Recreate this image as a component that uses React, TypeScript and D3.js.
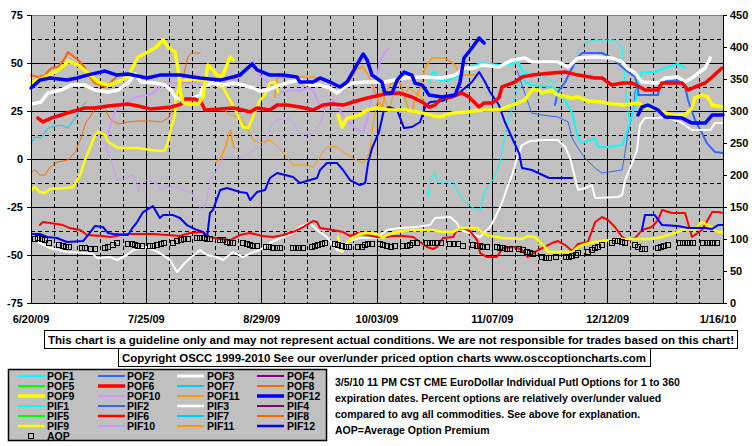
import React from "react";
import * as d3 from "d3";

type P = [number, number] | null;

// x values are days since 6/20/09; POF series on the left axis (%), PIF series + AOP on the right axis
const xTickDays = [0, 35, 70, 105, 140, 175, 210];
const xTickLabels = ["6/20/09", "7/25/09", "8/29/09", "10/03/09", "11/07/09", "12/12/09", "1/16/10"];
const leftTicks = [75, 50, 25, 0, -25, -50, -75];
const rightTicks = [450, 400, 350, 300, 250, 200, 150, 100, 50, 0];

const POF1: P[] = [[121.1,40.1],[121.7,44.8],[122.6,45.3],[123.8,41.1],[126.9,41.1],[128.7,42.2],[130.8,45.3],[132.9,47.9],[136.9,50.0],[142.0,49.0],[148.1,50.0],[149.0,46.4],[149.9,40.1],[152.0,38.5],[158.1,37.5],[161.1,33.3],[164.2,23.9],[166.0,10.9],[167.2,8.3],[171.2,10.9],[172.1,6.3],[175.1,6.3],[179.4,7.3],[180.3,10.9],[183.3,28.1],[184.2,38.5],[185.4,45.3],[189.3,45.3],[192.4,47.4],[196.3,49.5],[198.5,47.4]];
const POF2: P[] = [[159.0,28.1],[159.9,34.9],[162.1,40.1],[163.6,45.3],[165.7,52.6],[167.2,55.2],[173.3,55.2],[176.3,52.6],[179.7,47.4],[181.2,45.3],[183.3,42.7],[184.2,37.5],[184.3,33.3],[190.3,33.3],[190.9,40.1],[197.6,41.1],[198.5,37.5],[199.4,30.7],[201.5,20.3],[203.6,13.5],[205.1,8.3],[207.6,3.6],[210,3.1]];
const POF3: P[] = [[0,28.6],[3.0,29.7],[5.2,34.4],[9.1,35.9],[12.1,38.5],[16.4,38.5],[19.4,35.9],[23.4,34.9],[26.4,35.9],[29.4,39.6],[31.6,44.3],[33.4,40.1],[37.6,39.6],[40.7,38.5],[42.5,35.9],[44.0,31.8],[47.6,30.7],[51.3,33.3],[52.2,37.5],[55.2,39.6],[58.3,38.5],[61.3,39.6],[64.3,38.5],[67.4,37.0],[69.5,35.4],[71.6,35.9],[75.6,38.5],[78.6,40.1],[81.6,41.1],[84.7,38.5],[87.7,38.5],[90.7,37.0],[92.9,34.4],[94.7,37.0],[97.7,39.6],[102.0,40.1],[107.4,40.1],[113.5,42.2],[118.7,42.7],[124.7,42.2],[128.7,43.7],[131.7,47.4],[134.7,47.4],[136.9,49.0],[142.0,47.9],[146.0,51.6],[149.9,52.6],[152.0,50.5],[159.9,50.5],[163.0,47.9],[166.0,52.6],[171.2,53.1],[176.3,52.6],[179.4,50.5],[180.9,47.4],[183.3,44.8],[185.4,40.1],[190.3,39.6],[192.4,42.2],[196.3,42.7],[198.5,40.1],[200.6,42.2],[204.6,47.4],[206.1,52.6]];
const POF4: P[] = [];
const POF5: P[] = [];
const POF6: P[] = [[2.1,21.3],[3.6,19.3],[6.1,21.3],[9.1,22.9],[12.1,24.5],[16.4,26.6],[19.4,26.6],[23.4,27.6],[26.4,28.1],[29.4,28.6],[32.5,27.6],[36.4,26.0],[39.5,26.6],[42.5,27.1],[45.5,28.6],[46.7,31.2],[49.8,31.2],[51.6,29.7],[52.8,25.5],[57.4,26.0],[61.3,26.6],[64.3,25.5],[66.5,24.5],[68.6,26.6],[72.5,25.5],[74.7,28.1],[77.7,28.1],[81.6,27.1],[85.6,25.5],[88.6,28.1],[91.6,28.6],[94.7,28.1],[97.7,29.7],[102.0,31.8],[107.4,33.8],[111.7,34.4],[115.6,32.3],[118.7,29.7],[120.8,27.1],[122.6,28.1],[124.7,31.8],[127.8,32.3],[130.8,34.4],[132.9,32.3],[136.0,27.1],[137.5,29.2],[139.9,29.2],[142.0,31.8],[142.9,37.5],[146.9,40.1],[149.0,42.7],[152.0,43.7],[158.1,44.8],[162.1,45.3],[166.0,43.7],[171.2,42.2],[173.3,42.2],[176.3,38.5],[179.4,39.6],[182.4,39.6],[184.2,38.0],[186.3,35.9],[190.3,35.9],[191.5,39.6],[197.6,39.6],[199.4,35.9],[201.5,37.5],[204.6,39.6],[206.7,42.7],[209.7,47.4]];
const POF7: P[] = [[0,8.3],[1.2,11.5],[3.0,10.9],[5.2,16.1],[6.1,16.7],[9.1,17.7],[11.2,16.1],[13.4,21.3],[15.2,26.6],[16.7,29.7]];
const POF8: P[] = [[0,43.7],[2.1,42.7],[4.2,43.7],[6.1,47.4],[8.2,47.9],[10.3,52.6],[11.2,55.7],[14.3,51.6],[16.4,47.4],[17.3,43.7],[19.4,39.6],[22.5,37.5],[24.3,40.1],[26.4,43.7]];
const POF9: P[] = [[0,39.6],[4.2,42.7],[7.3,45.3],[10.3,49.0],[11.2,51.0],[14.3,49.0],[17.3,44.8],[20.3,40.1],[23.4,38.5],[26.4,40.1],[29.4,42.7],[32.5,53.1],[35.5,55.7],[37.6,57.8],[40.1,62.0],[41.6,58.3],[43.7,55.7],[44.6,47.4],[45.5,33.3],[46.1,29.7],[47.6,28.6],[50.7,28.6],[52.2,32.3],[52.8,39.6],[53.7,49.0],[55.2,46.4],[56.4,43.7],[58.0,42.7],[59.5,49.0],[60.4,53.1],[61.3,51.6],null,[93.2,22.9],[94.4,16.7],[95.9,21.3],[97.7,21.9],[99.8,22.9],[102.0,25.5],[105.0,26.6],[108.9,25.5],[114.1,25.5],[119.0,23.9],[123.8,21.9],[127.8,23.9],[132.3,24.5],[137.2,25.5],[142.0,25.5],[146.0,28.1],[149.9,30.7],[152.0,35.9],[154.2,35.9],[155.1,34.4],[158.1,35.9],[159.9,33.3],[164.2,31.8],[166.0,32.3],[169.0,30.2],[173.3,29.7],[176.3,28.6],[180.3,28.1],[184.2,29.2],[186.3,27.1],[188.4,26.6],[191.5,24.5],[194.5,22.9],[198.5,22.9],[200.6,26.6],[201.5,31.8],[203.6,33.3],[205.4,32.3],[206.7,28.1],[210,27.1]];
const POF10: P[] = [[22.8,5.7],[23.4,12.5],[24.3,19.3],[25.5,24.5],[27.3,28.6],[29.4,29.7],[31.6,32.3],[35.5,33.3],[37.6,34.9],[39.5,38.5],[42.5,39.6],[49.8,39.6],[52.8,38.5],[57.4,38.5],[60.4,40.1],[63.4,42.7],[66.5,49.0],[67.4,51.6],[68.0,47.4],[69.5,43.7],[71.6,40.1],[73.4,37.5],[75.6,34.9],[79.5,35.9],[81.6,35.4],[83.8,37.0],[85.6,35.9],[87.7,28.1],[89.8,29.2],[91.6,30.7],[95.3,21.3],[98.3,16.1],[100.8,14.1],[102.0,20.3],[103.5,33.3],[104.7,41.1],[105.9,50.5],[107.4,55.7],[108.6,57.8]];
const POF11: P[] = [[56.1,-2.1],[58.0,2.1],[59.2,7.3],[60.1,13.5],[60.7,15.1],[61.0,9.9],[61.6,5.7],null,[74.0,32.3],[74.7,42.2],[78.6,42.7],[85.6,42.7],[89.8,41.1],[93.8,37.0],[95.9,39.1],[98.9,46.4],[100.5,48.4],[102.0,44.8],[103.8,37.5],[105.3,30.7],[106.5,26.6],[107.4,33.3],[108.9,38.5],[110.5,41.1],[112.0,39.6],[113.2,33.3],[114.4,26.6],[115.6,24.5],[116.5,30.7],[118.1,37.0],[119.6,47.4],[121.7,52.6],[125.6,52.6],[128.7,49.0],[130.2,43.7],[133.8,43.7],[135.4,43.7]];
const POF12: P[] = [[0,37.0],[2.7,41.1],[5.8,42.2],[10.9,41.1],[14.0,42.2],[17.0,43.7],[22.5,45.8],[26.1,43.7],[29.4,44.3],[35.2,42.2],[39.1,43.7],[45.2,43.7],[51.3,42.2],[57.4,41.1],[61.3,42.7],[63.4,43.7],[67.1,49.5],[68.6,46.4],[72.5,43.7],[76.5,43.7],[80.7,42.7],[81.6,40.1],[85.6,40.1],[87.7,42.2],[90.7,40.1],[93.8,37.5],[95.9,40.1],[98.9,49.0],[100.8,54.7],[102.0,51.6],[103.5,43.7],[106.5,40.1],[107.4,34.4],[109.6,34.4],[111.1,41.1],[113.2,45.3],[115.6,43.7],[116.5,39.6],[118.7,38.5],[120.8,33.3],[124.7,32.3],[128.7,33.3],[130.2,40.1],[131.4,52.6],[133.8,57.8],[136.0,63.0],[137.5,60.4],null,[184.2,22.9],[185.4,27.1],[187.2,28.1],[190.3,25.5],[192.4,21.9],[197.6,21.3],[200.6,18.7],[204.6,18.7],[206.7,22.9],[210,22.9]];

const PIF1: P[] = [[120.5,165.6],[121.1,192.3],[122.6,204.6],[123.5,187.5],[125.0,189],[128.1,189],[129.3,176.7],[131.1,160.8],[134.1,148.5],[136.3,145.2],[137.2,165.6],[138.4,181.2],[140.2,192.3],[142.3,218.7],[143.5,254.7],[145.1,288.9],[146.9,320.4],[148.4,348.3],[149.9,360.9],[156.0,351.6],[159.0,343.8],[163.0,364.2],[165.7,382.8],[166.0,395.4],[168.1,406.2],[171.2,411],[177.2,411],[179.4,398.4],[180.0,364.0],[180.6,325.0],[181.5,285.9]];
const PIF2: P[] = [[147.5,364.2],[149.0,340.5],[151.1,309.3],[152.0,296.7],[155.1,293.7],[159.9,290.7],[163.0,282.9],[164.2,257.7],[166.0,242.1],[168.1,226.5],[171.2,210.9],[173.3,203.1],[179.4,207.9],[180.3,235.8],[181.2,267.3],[182.7,298.5],[183.3,329.7],[184.2,340.5]];
const PIF3: P[] = [[2.1,95.3],[5.8,85.9],[10.9,79.6],[15.8,78.1],[18.8,76.5],[20.0,70.3],[24.0,71.8],[26.1,67.2],[29.1,75.0],[31.0,82.8],[35.2,87.5],[39.1,78.1],[42.2,67.2],[44.3,48.4],[46.1,59.3],[48.3,70.3],[51.3,82.8],[53.4,75.0],[56.4,71.8],[58.3,67.2],[61.3,79.6],[64.3,71.8],[67.4,79.6],[69.5,82.8],[72.5,93.7],[76.5,103.1],[79.5,109.3],[81.6,118.7],[84.7,125.0],[86.8,114.0],[89.8,103.1],[92.9,82.8],[94.4,79.6],[95.9,95.3],[99.8,101.5],[105.0,101.5],[108.0,114.0],[112.0,117.1],[117.1,118.7],[121.1,121.8],[122.6,132.8],[127.2,134.3],[129.3,125.0],[130.2,114.0],[133.2,109.3],[136.3,103.1],[139.3,118.7],[140.8,132.8],[142.9,156.2],[144.8,184.4],[146.0,199.9],[147.5,226.5],[149.0,246.8],[151.4,253.1],[156.0,254.6],[159.9,254.6],[162.1,243.7],[163.6,226.5],[164.5,207.8],[166.0,176.5],[168.1,179.7],[170.2,184.4],[171.2,164.0],[178.1,165.6],[179.4,168.7],[180.3,192.1],[182.4,218.7],[183.9,239.0],[184.8,278.1],[186.3,289.0],[190.3,289.0],[192.4,290.6],[197.0,282.8],[200.6,270.3],[206.1,270.3],[207.6,281.2],[210,281.2]];
const PIF4: P[] = [];
const PIF5: P[] = [];
const PIF6: P[] = [[2.7,121.8],[3.6,126.5],[5.8,125.0],[9.7,121.8],[11.8,117.1],[14.9,114.0],[17.0,106.2],[21.8,104.7],[24.0,103.1],[29.1,107.8],[37.0,107.8],[41.3,106.2],[45.2,104.7],[48.3,109.3],[52.2,110.9],[54.3,103.1],[57.4,100.0],[60.4,98.4],[63.4,106.2],[66.5,109.3],[70.4,104.7],[73.4,103.1],[76.5,106.2],[79.5,110.9],[82.5,118.7],[85.6,128.1],[86.8,126.5],[87.7,117.1],[91.6,114.0],[94.7,110.9],[96.8,104.7],[98.9,109.3],[102.0,106.2],[105.0,103.1],[108.0,103.1],[109.9,104.7],[112.9,104.7],[115.9,103.1],[118.1,95.3],[120.2,87.5],[122.0,84.4],[123.2,87.5],[125.0,101.5],[128.1,103.1],[129.3,114.0],[131.1,117.1],[133.2,112.5],[135.4,98.4],[136.3,78.1],[138.4,71.8],[141.4,71.8],[143.2,85.9],[146.9,87.5],[149.0,82.8],[150.8,71.8],[153.9,82.8],[158.1,93.7],[159.9,96.8],[162.1,90.6],[164.2,81.2],[166.0,92.2],[169.0,95.3],[171.2,126.5],[173.3,134.3],[175.1,129.7],[177.2,118.7],[179.4,103.1],[181.2,98.4],[183.3,101.5],[185.4,114.0],[188.4,118.7],[190.3,129.7],[191.5,145.3],[194.5,140.6],[198.5,140.6],[200.6,103.1],[203.6,114.0],[206.7,142.1],[208.5,142.1],[210,140.6]];
const PIF7: P[] = [];
const PIF8: P[] = [[0,204.6],[1.2,207.8],[2.7,199.9],[4.2,199.9],[5.8,212.5],[8.2,220.3],[11.2,223.4],[13.4,235.9],[15.2,257.8],[16.7,282.8],[17.9,290.6],[18.8,298.4],[20.3,304.7],[22.5,309.3],[22.8,298.4],[24.3,285.9],[26.4,279.7],[29.4,282.8],[32.5,284.4],[36.4,284.4],[39.5,282.8],[41.6,289.0],[43.7,309.3],[45.2,329.6],[46.7,364.0],[47.6,384.4],[48.6,390.6],[51.3,390.6]];
const PIF9: P[] = [[0,176.7],[1.2,181.2],[2.7,173.4],[4.2,171.9],[5.8,178.2],[10.9,179.7],[12.7,181.2],[14.9,199.9],[16.7,228.1],[17.9,242.1],[19.4,262.5],[20.3,267.3],[22.5,262.5],[23.4,251.7],[26.4,242.1],[32.5,242.1],[36.4,239.1],[39.5,237.6],[40.7,239.1],[41.6,251.7],[42.5,273.3],[43.7,293.7],[44.0,320.4],[45.2,345.3],[45.8,348.3],[53.4,348.3],[55.2,343.8],[58.3,336.0],[60.4,317.1],[62.5,296.7],[64.3,275.1],[65.9,273.3],[67.4,290.7],[69.5,317.1],[71.0,324.9],[72.5,343.8],[74.0,345.3],[75.0,330.0],null,[93.2,103.1],[94.4,82.8],[96.8,98.4],[99.8,107.8],[102.0,109.3],[105.0,107.8],[106.8,101.5],[108.0,106.2],[111.1,110.9],[115.0,114.0],[122.0,114.0],[125.0,110.9],[128.1,110.9],[130.2,117.1],[135.4,117.1],[137.2,109.3],[139.3,104.7],[143.2,101.5],[149.0,100.0],[150.8,104.7],[152.9,103.1],[156.0,87.5],[156.9,79.6],[164.2,79.6],[166.0,87.5],[168.1,92.2],[171.2,95.3],[178.1,100.0],[188.4,100.0],[191.5,103.1],[195.4,109.3],[198.5,115.6],[201.5,114.0],[203.6,126.5],[205.4,121.8],[208.5,110.9],[210,110.9]];
const PIF10: P[] = [[22.5,246.9],[23.1,239.1],[24.9,212.4],[26.1,192.3],[29.1,195.3],[31.0,200.1],[32.2,187.5],[32.5,173.4],[33.1,184.5],[35.2,192.3],[38.2,187.5],[39.1,176.7],[41.3,181.2],[44.3,181.2],[46.1,176.7],[49.2,171.9],[51.3,148.5],[52.2,145.2],[53.4,160.8],[54.3,192.3],[56.4,207.9],[57.4,218.7],[58.3,228],[60.4,228],[64.3,226.5],[66.5,235.8],[68.6,242.1],[70.1,243.9],[71.6,254.7],[72.5,273.3],[74.7,285.9],[77.7,288.9],[79.5,282.9],[81.6,265.5],[83.8,262.5],[85.6,265.5],[87.7,281.1],[89.8,309.3],[92.9,317.1]];
const PIF11: P[] = [[57.4,306.3],[60.4,293.7],[63.4,290.7],[65.9,270.3],[67.4,254.7],[69.5,249.9],[72.5,254.7],[75.0,243.9],[77.1,231.3],[79.5,215.7],[83.8,215.7],[85.6,212.4],[86.8,220.2],[88.3,234.3],[89.8,243.9],[92.9,243.9],[94.7,235.8],[97.7,226.5],[100.8,218.7],[102.0,226.5],[102.9,242.1],[103.8,278.1],[104.7,304.8],[105.6,324.9],[106.5,332.7],[107.4,317.1],[108.6,298.5],[109.6,320.4],[110.5,328.2],[113.5,324.9],[114.7,336],[116.5,329.7],[118.7,320.4],[120.2,306.3],[121.7,301.5]];
const PIF12: P[] = [[0.3,107.8],[2.7,107.8],[4.9,103.1],[7.9,101.5],[10.9,95.3],[15.8,96.8],[17.3,106.2],[19.4,120.3],[21.8,118.7],[23.4,109.3],[24.9,107.8],[29.4,106.2],[31.0,118.7],[32.2,126.5],[34.0,142.1],[37.0,151.5],[39.1,132.8],[40.1,137.4],[43.1,137.4],[45.2,132.8],[47.3,121.8],[50.4,114.0],[52.2,110.9],[53.4,101.5],[54.3,140.6],[55.2,145.3],[57.4,176.5],[59.5,179.7],[63.4,173.4],[65.5,171.8],[66.5,160.9],[68.6,173.4],[71.0,176.5],[72.5,195.3],[74.7,203.1],[79.5,196.8],[81.6,187.5],[84.7,192.1],[86.8,195.3],[87.7,207.8],[89.8,218.7],[92.9,218.7],[94.7,207.8],[96.8,192.1],[99.8,184.4],[101.4,187.5],[102.3,218.7],[103.5,242.1],[105.6,267.2],[107.1,301.5],[108.6,306.2],[111.1,301.5],[113.2,273.4],[115.6,275.0],[118.1,282.8],[119.6,306.2],[121.1,314.0],[124.7,315.6],[129.9,328.1],[133.8,345.3],[136.0,360.9],[137.8,345.3],[139.3,329.6],[142.0,309.3],[143.8,282.8],[146.0,257.8],[148.1,234.3],[149.0,210.9],[152.0,207.8],[157.2,195.3],[164.2,195.3],null,[185.4,114.0],[186.3,137.4],[189.3,137.4],[191.5,121.8],[196.3,120.3],[199.4,117.1],[204.6,117.1],[206.7,115.6],[208.5,121.8],[210,121.8]];

const AOP: [number, number][] = [[1.2,100],[2.1,101.5],[3.3,100],[4.2,98.4],[5.5,93.7],[8.5,90.6],[9.7,89],[10.6,87.5],[11.5,87.5],[15.5,85.9],[16.4,85.9],[18.2,84.4],[19.4,84.4],[22.5,85.9],[23.4,87.5],[24.9,90.6],[26.1,93.7],[29.4,92.2],[30.7,92.2],[31.6,90.6],[32.5,89],[33.7,89],[36.1,89],[37,89],[38.2,90.6],[39.5,92.2],[40.4,93.7],[43.1,93.7],[44.3,96.8],[45.5,98.4],[46.4,100],[47.6,100],[50.4,101.5],[51.3,101.5],[52.5,101.5],[53.4,100],[54.3,100],[57.4,98.4],[58.3,98.4],[59.5,95.3],[60.4,93.7],[61.3,93.7],[64.3,93.7],[65.5,92.2],[66.5,90.6],[67.4,89],[68.6,89],[71.3,87.5],[72.2,87.5],[73.4,85.9],[74.7,85.9],[75.6,85.9],[79.5,85.9],[80.4,85.9],[81.3,85.9],[82.5,85.9],[85.3,87.5],[86.2,89],[87.1,90.6],[88.3,92.2],[89.2,93.7],[92.3,92.2],[93.2,90.6],[94.4,89],[95.6,87.5],[96.5,87.5],[99.2,87.5],[100.5,87.5],[101.4,90.6],[102.3,92.2],[103.5,92.2],[105.9,92.2],[106.8,90.6],[108,89],[109.2,87.5],[110.5,89],[112.9,89],[114.1,89],[115,90.6],[115.9,93.7],[117.1,93.7],[120.2,93.7],[121.1,93.7],[122,93.7],[123.2,93.7],[124.4,93.7],[127.2,92.2],[128.4,92.2],[129.6,92.2],[131.1,89],[134.1,90.6],[135.4,89],[136.3,89],[137.2,87.5],[138.4,87.5],[141.4,87.5],[142.3,85.9],[143.2,85.9],[144.5,84.4],[145.4,84.4],[148.1,84.4],[149.3,82.8],[150.5,79.6],[151.4,78.1],[152.3,76.5],[155.1,71.8],[156.3,70.3],[157.2,70.3],[159.3,71.8],[162.4,71.8],[163.3,71.8],[164.2,73.4],[165.4,75],[166,78.1],[169,79.6],[170.2,82.8],[171.2,85.9],[172.1,87.5],[173.3,90.6],[176.3,93.7],[177.2,96.8],[178.1,96.8],[179.4,95.3],[180.3,93.7],[183.3,90.6],[184.2,87.5],[185.4,84.4],[186.3,84.4],[190.3,85.9],[191.2,87.5],[192.1,89],[193.3,90.6],[197,93.7],[197.9,93.7],[199.1,93.7],[200,93.7],[200.9,93.7],[203.9,93.7],[205.1,93.7],[206.1,93.7],[207,93.7],[208.2,93.7]];

const disclaimer = "This chart is a guideline only and may not represent actual conditions. We are not responsible for trades based on this chart!";
const copyright = "Copyright OSCC 1999-2010 See our over/under priced option charts www.osccoptioncharts.com";
const noteLines = [
  "3/5/10 11 PM CST CME EuroDollar Individual Putl Options for 1 to 360",
  "expiration dates. Percent options are relatively over/under valued",
  "compared to avg all commodities. See above for explanation.",
  "AOP=Average Option Premium",
];

type Series = { name: string; data: P[]; color: string; width: number; legendWidth: number; axis: "L" | "R" };

const S = (name: string, data: P[], color: string, width: number, legendWidth: number, axis: "L" | "R"): Series => ({ name, data, color, width, legendWidth, axis });

const allSeries: Series[] = [
  S("POF1", POF1, "#00FFFF", 2, 2, "L"),
  S("POF2", POF2, "#3366FF", 2, 2, "L"),
  S("POF3", POF3, "#FFFFFF", 3.5, 3, "L"),
  S("POF4", POF4, "#800080", 2, 2, "L"),
  S("POF5", POF5, "#00FF00", 2, 2, "L"),
  S("POF6", POF6, "#FF0000", 3.5, 3.5, "L"),
  S("POF7", POF7, "#00CCFF", 1, 2, "L"),
  S("POF8", POF8, "#FF6600", 2, 2, "L"),
  S("POF9", POF9, "#FFFF00", 3.5, 3.5, "L"),
  S("POF10", POF10, "#CC99FF", 2, 2, "L"),
  S("POF11", POF11, "#FF9900", 1.5, 2, "L"),
  S("POF12", POF12, "#0000FF", 3.5, 3.5, "L"),
  S("PIF1", PIF1, "#00FFFF", 1, 2, "R"),
  S("PIF2", PIF2, "#3366FF", 1, 2, "R"),
  S("PIF3", PIF3, "#FFFFFF", 2, 2.5, "R"),
  S("PIF4", PIF4, "#800080", 1, 2, "R"),
  S("PIF5", PIF5, "#00FF00", 1, 2, "R"),
  S("PIF6", PIF6, "#FF0000", 2, 2.5, "R"),
  S("PIF7", PIF7, "#00CCFF", 1, 2, "R"),
  S("PIF8", PIF8, "#FF6600", 1, 2, "R"),
  S("PIF9", PIF9, "#FFFF00", 2.5, 2.5, "R"),
  S("PIF10", PIF10, "#CC99FF", 1, 2, "R"),
  S("PIF11", PIF11, "#FF9900", 1, 2, "R"),
  S("PIF12", PIF12, "#0000FF", 2, 2.5, "R"),
];

const drawOrder = ["PIF10","PIF11","PIF8","PIF1","PIF2","POF7","POF10","POF11","POF8","POF1","POF2","PIF3","PIF6","PIF9","PIF12","POF3","POF6","POF9","POF12"];

const FONT = "'Liberation Sans', Arial, Helvetica, sans-serif";

export default function App() {
  const W = 755, H = 446;
  const L = 31, R = 723, T = 15, B = 303;
  const x = d3.scaleLinear().domain([0, 210]).range([L, R]);
  const yL = d3.scaleLinear().domain([-75, 75]).range([B, T]);
  const yR = d3.scaleLinear().domain([0, 450]).range([B, T]);

  const pathFor = (s: Series) => {
    const ys = s.axis === "L" ? yL : yR;
    return d3.line<P>().defined((d) => d !== null).x((d) => x((d as [number, number])[0])).y((d) => ys((d as [number, number])[1]))(s.data) || "";
  };

  const hGrid = d3.range(-75, 75.01, 12.5);
  const vGrid = d3.range(0, 210.01, 7);

  const byName: Record<string, Series> = {};
  allSeries.forEach((s) => (byName[s.name] = s));

  const legendColsLine = [18, 98, 177, 257];
  const legendColsText = [47, 127, 207, 287];

  return (
    <svg width={W} height={H} style={{ position: "absolute", left: 0, top: 0, display: "block" }} fontFamily={FONT} fontWeight="bold">
      <rect x={0} y={0} width={W} height={H} fill="#FFFFFF" />
      <rect x={L} y={T} width={R - L} height={B - T} fill="#C0C0C0" />
      {vGrid.map((d) => {
        const solid = Math.abs(d % 35) < 0.01;
        return <line key={"v" + d} x1={x(d)} x2={x(d)} y1={T} y2={B} stroke="#000" strokeWidth={1} strokeDasharray={solid ? undefined : "4,3"} shapeRendering="crispEdges" />;
      })}
      {hGrid.map((v) => {
        const solid = Math.abs(v % 25) < 0.01;
        return <line key={"h" + v} x1={L} x2={R} y1={yL(v)} y2={yL(v)} stroke="#000" strokeWidth={1} strokeDasharray={solid ? undefined : "4,3"} shapeRendering="crispEdges" />;
      })}
      <line x1={L} x2={R} y1={T} y2={T} stroke="#808080" strokeWidth={1} shapeRendering="crispEdges" />
      {drawOrder.map((n) => {
        const s = byName[n];
        return <path key={n} d={pathFor(s)} fill="none" stroke={s.color} strokeWidth={s.width} strokeLinejoin="round" strokeLinecap="round" />;
      })}
      {AOP.map((d, i) => (
        <rect key={"a" + i} x={x(d[0]) - 2.5} y={yR(d[1]) - 2.5} width={5} height={5} fill="none" stroke="#000" strokeWidth={1} shapeRendering="crispEdges" />
      ))}
      <line x1={L} x2={L} y1={T} y2={B} stroke="#000" strokeWidth={1} shapeRendering="crispEdges" />
      <line x1={R} x2={R} y1={T} y2={B} stroke="#000" strokeWidth={1} shapeRendering="crispEdges" />
      <line x1={L} x2={R} y1={B} y2={B} stroke="#000" strokeWidth={1} shapeRendering="crispEdges" />
      {leftTicks.map((v) => (
        <g key={"lt" + v}>
          <line x1={L - 4} x2={L} y1={yL(v)} y2={yL(v)} stroke="#000" shapeRendering="crispEdges" />
          <text x={23} y={yL(v) + 4} textAnchor="end" fontSize={11}>{v}</text>
        </g>
      ))}
      {rightTicks.map((v) => (
        <g key={"rt" + v}>
          <line x1={R} x2={R + 4} y1={yR(v)} y2={yR(v)} stroke="#000" shapeRendering="crispEdges" />
          <text x={730} y={yR(v) + 4} textAnchor="start" fontSize={11}>{v}</text>
        </g>
      ))}
      {xTickDays.map((d, i) => (
        <text key={"xt" + d} x={i === xTickDays.length - 1 ? x(d) - 5 : x(d)} y={323} textAnchor="middle" fontSize={11}>{xTickLabels[i]}</text>
      ))}
      <rect x={44.5} y={330.5} width={693} height={18} fill="#FFF" stroke="#000" strokeWidth={1} />
      <text x={48} y={344} fontSize={11.5} textLength={686} lengthAdjust="spacingAndGlyphs">{disclaimer}</text>
      <rect x={118.5} y={348.5} width={532} height={18} fill="#FFF" stroke="#000" strokeWidth={1} />
      <text x={122} y={362} fontSize={11.5} textLength={524} lengthAdjust="spacingAndGlyphs">{copyright}</text>
      <rect x={8.5} y={369.5} width={318} height={71} fill="#C0C0C0" stroke="#000" strokeWidth={1.5} />
      {allSeries.map((s, i) => {
        const row = Math.floor(i / 4), col = i % 4;
        const ly = 376 + row * 10;
        return (
          <g key={"lg" + s.name}>
            <line x1={legendColsLine[col]} x2={legendColsLine[col] + 27} y1={ly} y2={ly} stroke={s.color} strokeWidth={s.legendWidth} />
            <text x={legendColsText[col]} y={ly + 4} fontSize={10.5}>{s.name}</text>
          </g>
        );
      })}
      <rect x={28.5} y={433.5} width={5} height={5} fill="none" stroke="#000" strokeWidth={1} />
      <text x={47} y={440} fontSize={10.5}>AOP</text>
      {noteLines.map((t, i) => (
        <text key={"n" + i} x={335} y={386 + i * 16} fontSize={10.5}>{t}</text>
      ))}
    </svg>
  );
}
